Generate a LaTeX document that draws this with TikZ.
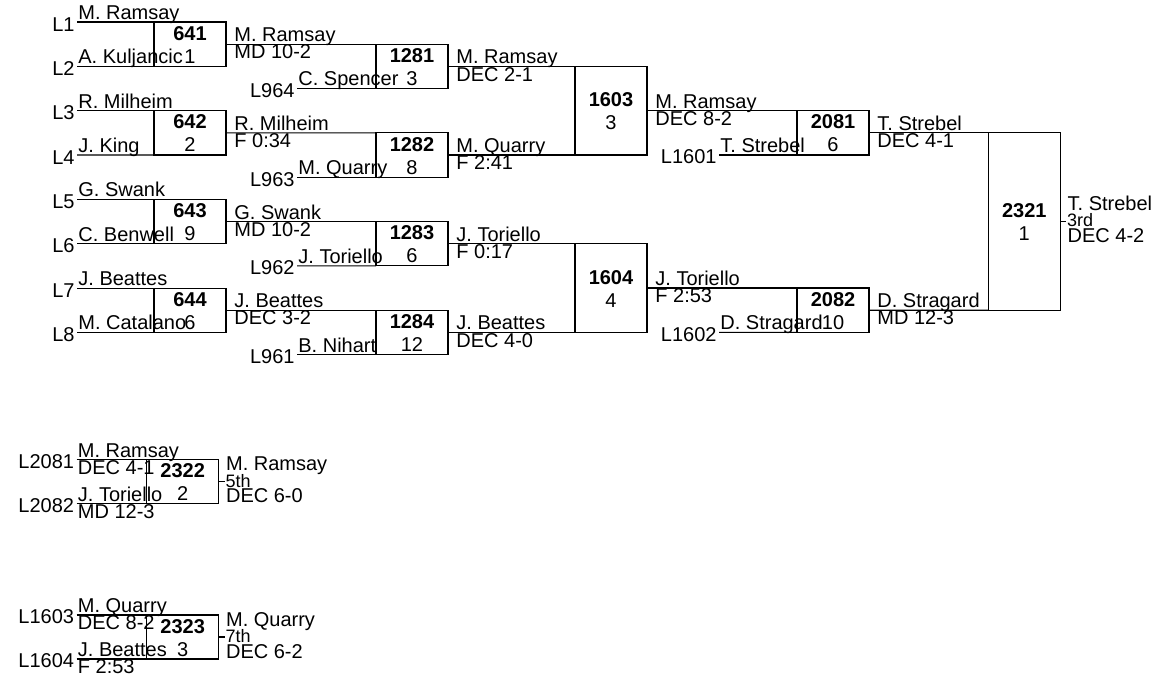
\documentclass[tikz,border=0pt]{standalone}
\usepackage{fontspec}
\setmainfont{Liberation Sans}
\usetikzlibrary{calc}
\newcommand\drawbox[6]{%
  \node[bx, minimum height=#4] (#1) at (#2,#3) {};
  \node[num] (#1n) at ($(#1.center)+(0,-4)$) {#5};
  \node[sd] (#1s) at ($(#1.center)+(0,19)$) {#6};}
% #1 coord name, #2 start point, #3 target, #4 text dx, #5 name, #6 score
\newcommand\pline[6]{%
  \coordinate (#1) at (#2);
  \draw[ln] (#1) -- (#3);
  \node[nm] (#1t) at ($(#1)+(#4,-2.5)$) {#5};
  \node[nm] (#1s) at ($(#1)+(#4,14.7)$) {#6};}
\newcommand\llab[3]{\node[lb] (#1l) at ($(#1)+(-2,#3)$) {#2};}
% #1 box, #2 stub name, #3 name, #4 place, #5 score
\newcommand\result[5]{%
  \coordinate (#2) at ($(#1.east)+(6,0)$);
  \draw[ln] (#1.east) -- (#2);
  \node[nm] (#2t) at ($(#1.east)+(7,-11)$) {#3};
  \node[pl] (#2p) at ($(#2)+(0.5,5.4)$) {#4};
  \node[nm] (#2s) at ($(#1.east)+(7,21)$) {#5};}
\begin{document}
\begin{tikzpicture}[x=0.5pt,y=-0.5pt,
  ln/.style={line width=0.6pt, draw=black},
  bx/.style={draw=black, line width=0.6pt, minimum width=36pt, inner sep=0pt, outer sep=0pt, anchor=north west},
  nm/.style={inner sep=0pt, anchor=base west, font=\fontsize{10}{12}\selectfont},
  lb/.style={inner sep=0pt, anchor=base east, font=\fontsize{10}{12}\selectfont},
  num/.style={inner sep=0pt, anchor=base, font=\fontsize{10}{12}\selectfont\bfseries},
  sd/.style={inner sep=0pt, anchor=base, font=\fontsize{10}{12}\selectfont},
  pl/.style={inner sep=0pt, anchor=base west, font=\fontsize{9}{10}\selectfont}]
\useasboundingbox (0,0) rectangle (1158,677);

% ---------- Round 1 ----------
\drawbox{m641}{154}{22}{22.15pt}{641}{1}
\drawbox{m642}{154}{110.7}{22.15pt}{642}{2}
\drawbox{m643}{154}{199.4}{22.15pt}{643}{9}
\drawbox{m644}{154}{288.1}{22.15pt}{644}{6}
\pline{a1}{77,22}{m641.north west}{1}{M. Ramsay}{}
\pline{a2}{77,66.3}{m641.south west}{1}{A. Kuljancic}{}
\pline{a3}{77,110.7}{m642.north west}{1}{R. Milheim}{}
\pline{a4}{77,155}{m642.south west}{1}{J. King}{}
\pline{a5}{77,199.4}{m643.north west}{1}{G. Swank}{}
\pline{a6}{77,243.7}{m643.south west}{1}{C. Benwell}{}
\pline{a7}{77,288.1}{m644.north west}{1}{J. Beattes}{}
\pline{a8}{77,332.4}{m644.south west}{1}{M. Catalano}{}
\llab{a1}{L1}{9}\llab{a2}{L2}{9}\llab{a3}{L3}{9}\llab{a4}{L4}{9}
\llab{a5}{L5}{9}\llab{a6}{L6}{9}\llab{a7}{L7}{9}\llab{a8}{L8}{9}

% ---------- Round 2 ----------
\drawbox{m1281}{376}{44.15}{22.15pt}{1281}{3}
\drawbox{m1282}{376}{132.85}{22.15pt}{1282}{8}
\drawbox{m1283}{376}{221.55}{22.15pt}{1283}{6}
\drawbox{m1284}{376}{310.25}{22.15pt}{1284}{12}
\pline{b1}{m641.east}{m1281.north west}{8}{M. Ramsay}{MD 10-2}
\pline{b2}{297,88.45}{m1281.south west}{1}{C. Spencer}{}
\pline{b3}{m642.east}{m1282.north west}{8}{R. Milheim}{F 0:34}
\pline{b4}{297,177.15}{m1282.south west}{1}{M. Quarry}{}
\pline{b5}{m643.east}{m1283.north west}{8}{G. Swank}{MD 10-2}
\pline{b6}{297,265.85}{m1283.south west}{1}{J. Toriello}{}
\pline{b7}{m644.east}{m1284.north west}{8}{J. Beattes}{DEC 3-2}
\pline{b8}{297,354.55}{m1284.south west}{1}{B. Nihart}{}
\llab{b2}{L964}{9}\llab{b4}{L963}{9}\llab{b6}{L962}{9}\llab{b8}{L961}{9}

% ---------- Round 3 ----------
\drawbox{m1603}{575}{66.3}{44.35pt}{1603}{3}
\drawbox{m1604}{575}{243.7}{44.35pt}{1604}{4}
\pline{c1}{m1281.east}{m1603.north west}{8}{M. Ramsay}{DEC 2-1}
\pline{c2}{m1282.east}{m1603.south west}{8}{M. Quarry}{F 2:41}
\pline{c3}{m1283.east}{m1604.north west}{8}{J. Toriello}{F 0:17}
\pline{c4}{m1284.east}{m1604.south west}{8}{J. Beattes}{DEC 4-0}

% ---------- Round 4 ----------
\drawbox{m2081}{797}{110.65}{22.15pt}{2081}{6}
\drawbox{m2082}{797}{288.05}{22.15pt}{2082}{10}
\pline{d1}{m1603.east}{m2081.north west}{8}{M. Ramsay}{DEC 8-2}
\pline{d2}{719,154.95}{m2081.south west}{1}{T. Strebel}{}
\pline{d3}{m1604.east}{m2082.north west}{8}{J. Toriello}{F 2:53}
\pline{d4}{719,332.35}{m2082.south west}{1}{D. Stragard}{}
\llab{d2}{L1601}{9}\llab{d4}{L1602}{9}

% ---------- Final ----------
\drawbox{m2321}{988.3}{132.8}{88.7pt}{2321}{1}
\pline{e1}{m2081.east}{m2321.north west}{8}{T. Strebel}{DEC 4-1}
\pline{e2}{m2082.east}{m2321.south west}{8}{D. Stragard}{MD 12-3}
\result{m2321}{o1}{T. Strebel}{3rd}{DEC 4-2}

% ---------- 5th place ----------
\drawbox{m2322}{146.7}{459.7}{22pt}{2322}{2}
\pline{f1}{76.5,459.7}{m2322.north west}{1}{M. Ramsay}{DEC 4-1}
\pline{f2}{76.5,503.7}{m2322.south west}{1}{J. Toriello}{MD 12-3}
\llab{f1}{L2081}{8.5}\llab{f2}{L2082}{8.5}
\result{m2322}{o2}{M. Ramsay}{5th}{DEC 6-0}

% ---------- 7th place ----------
\drawbox{m2323}{146.7}{615}{22pt}{2323}{3}
\pline{g1}{76.5,615}{m2323.north west}{1}{M. Quarry}{DEC 8-2}
\pline{g2}{76.5,659}{m2323.south west}{1}{J. Beattes}{F 2:53}
\llab{g1}{L1603}{8.5}\llab{g2}{L1604}{8.5}
\result{m2323}{o3}{M. Quarry}{7th}{DEC 6-2}
\end{tikzpicture}
\end{document}
